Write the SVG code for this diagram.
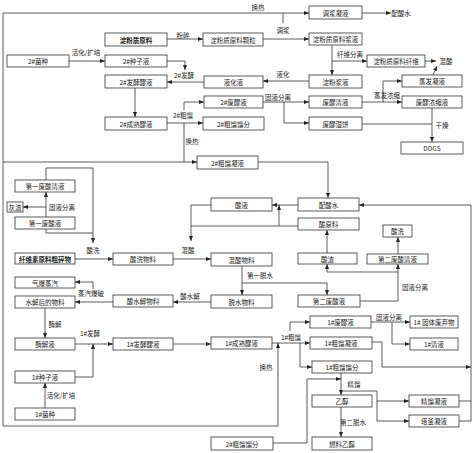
<svg xmlns="http://www.w3.org/2000/svg" width="474" height="453" viewBox="0 0 474 453">
<style>
rect{fill:#fff;stroke:#333;stroke-width:.8}
text{font-family:"Noto Sans CJK SC","Noto Sans",sans-serif;font-size:6.5px;fill:#222;text-anchor:middle;dominant-baseline:central}
.bd{font-weight:bold}
.c path{fill:none;stroke:#333;stroke-width:.8}
.a{marker-end:url(#ar)}
</style>
<defs>
<marker id="ar" markerUnits="userSpaceOnUse" markerWidth="5" markerHeight="4" refX="5" refY="2" orient="auto"><path d="M0,0L5,2L0,4z" fill="#222"/></marker>
</defs>
<g class="c" id="connectors">
<path d="M3,426V13H309" class="a"/>
<path d="M283,13V23"/>
<path d="M362,13H391" class="a"/>
<path d="M167,39H203" class="a"/>
<path d="M263,39H309" class="a"/>
<path d="M69,61H105" class="a"/>
<path d="M167,61H185V70" class="a"/>
<path d="M332,45V75" class="a"/>
<path d="M332,61H367" class="a"/>
<path d="M425,61H436" class="a"/>
<path d="M433,75L437,66" class="a"/>
<path d="M309,81H263" class="a"/>
<path d="M204,82H167" class="a"/>
<path d="M135,88V117" class="a"/>
<path d="M167,123H203" class="a"/>
<path d="M184,110V102H204" class="a"/>
<path d="M184,123V162"/>
<path d="M3,162H197" class="a"/>
<path d="M263,102H309" class="a"/>
<path d="M284,102V123H309" class="a"/>
<path d="M362,102H402" class="a"/>
<path d="M383,102V81H402" class="a"/>
<path d="M432,108V142" class="a"/>
<path d="M362,124H432"/>
<path d="M258,162H328V198" class="a"/>
<path d="M471,421V205H359" class="a"/>
<path d="M298,205H272" class="a"/>
<path d="M298,226H191"/>
<path d="M279,226V205" class="a"/>
<path d="M211,205H191V241" class="a"/>
<path d="M75,259H113" class="a"/>
<path d="M173,259H211" class="a"/>
<path d="M46,180V168H93V243" class="a"/>
<path d="M46,229V233H93"/>
<path d="M46,217V192" class="a"/>
<path d="M46,207H23" class="a"/>
<path d="M242,266V295" class="a"/>
<path d="M242,283H327V295" class="a"/>
<path d="M211,302H173" class="a"/>
<path d="M113,302H75" class="a"/>
<path d="M93,289V282H75" class="a"/>
<path d="M45,308V338" class="a"/>
<path d="M75,344H113" class="a"/>
<path d="M75,377H93V344" class="a"/>
<path d="M45,408V383" class="a"/>
<path d="M173,344H211" class="a"/>
<path d="M3,426H278V343" class="a"/>
<path d="M272,343H310" class="a"/>
<path d="M290,331V322H310" class="a"/>
<path d="M300,343V367H312" class="a"/>
<path d="M371,322H410" class="a"/>
<path d="M392,322V344H410" class="a"/>
<path d="M372,342H382V367H471" class="a"/>
<path d="M273,443H307V379H341" class="a"/>
<path d="M341,373V395" class="a"/>
<path d="M341,391H377V421H409" class="a"/>
<path d="M377,401H409" class="a"/>
<path d="M459,401H471"/>
<path d="M459,421H471"/>
<path d="M341,407V437" class="a"/>
<path d="M327,253V230" class="a"/>
<path d="M360,301H398V264" class="a"/>
<path d="M398,272H327V264" class="a"/>
<path d="M398,254V237" class="a"/>
</g>
<g id="labels">
<text x="258" y="7">换热</text>
<text x="183" y="35">粉碎</text>
<text x="283" y="30">调浆</text>
<text x="86" y="52">活化/扩培</text>
<text x="350" y="54">纤维分离</text>
<text x="184" y="75">2#发酵</text>
<text x="283" y="74">液化</text>
<text x="278" y="97">固液分离</text>
<text x="387" y="95">蒸发浓缩</text>
<text x="183" y="115">2#粗馏</text>
<text x="442" y="125">干燥</text>
<text x="192" y="141">换热</text>
<text x="62" y="207">固液分离</text>
<text x="93" y="250">酸洗</text>
<text x="188" y="250">混酸</text>
<text x="260" y="275">第一脱水</text>
<text x="190" y="296">酸水解</text>
<text x="91" y="293">蒸汽爆破</text>
<text x="415" y="287">固液分离</text>
<text x="389" y="317">固液分离</text>
<text x="55" y="324">酶解</text>
<text x="90" y="333">1#发酵</text>
<text x="291" y="337">1#粗馏</text>
<text x="266" y="367">换热</text>
<text x="354" y="384">精馏</text>
<text x="61" y="395">活化/扩培</text>
<text x="353" y="422">第二脱水</text>
<text x="401" y="13">配酸水</text>
<text x="446" y="61">混酸</text>
</g>
<g id="n1"><rect x="309" y="6" width="53" height="13"/><text x="335.5" y="12.5">调浆凝液</text></g>
<g id="n2"><rect x="105" y="33" width="62" height="13"/><text class="bd" x="136" y="39.5">淀粉质原料</text></g>
<g id="n3"><rect x="7" y="55" width="62" height="12"/><text x="38" y="61">2#菌种</text></g>
<g id="n4"><rect x="105" y="55" width="62" height="12"/><text x="136" y="61">2#种子液</text></g>
<g id="n5"><rect x="105" y="75" width="62" height="13"/><text x="136" y="81.5">2#发酵醪液</text></g>
<g id="n6"><rect x="105" y="117" width="62" height="13"/><text x="136" y="123.5">2#成熟醪液</text></g>
<g id="n7"><rect x="203" y="33" width="60" height="13"/><text x="233" y="39.5">淀粉质原料颗粒</text></g>
<g id="n8"><rect x="309" y="33" width="53" height="12"/><text x="335.5" y="39">淀粉质原料浆液</text></g>
<g id="n9"><rect x="367" y="55" width="58" height="12"/><text x="396" y="61">淀粉质原料纤维</text></g>
<g id="n10"><rect x="309" y="75" width="53" height="13"/><text x="335.5" y="81.5">淀粉浆液</text></g>
<g id="n11"><rect x="204" y="76" width="59" height="12"/><text x="233.5" y="82">液化液</text></g>
<g id="n12"><rect x="402" y="75" width="60" height="12"/><text x="432" y="81">蒸发凝液</text></g>
<g id="n13"><rect x="204" y="96" width="59" height="12"/><text x="233.5" y="102">2#废醪液</text></g>
<g id="n14"><rect x="309" y="96" width="53" height="12"/><text x="335.5" y="102">废醪清液</text></g>
<g id="n15"><rect x="402" y="96" width="60" height="12"/><text x="432" y="102">废醪浓缩液</text></g>
<g id="n16"><rect x="203" y="117" width="61" height="13"/><text x="233.5" y="123.5">2#粗馏馏分</text></g>
<g id="n17"><rect x="309" y="117" width="53" height="13"/><text x="335.5" y="123.5">废醪湿饼</text></g>
<g id="n18"><rect x="401" y="142" width="62" height="12"/><text x="432" y="148">DDGS</text></g>
<g id="n19"><rect x="197" y="156" width="61" height="13"/><text x="227.5" y="162.5">2#粗馏凝液</text></g>
<g id="n20"><rect x="15" y="180" width="60" height="12"/><text x="45" y="186">第一废酸清液</text></g>
<g id="n21"><rect x="7" y="202" width="16" height="10"/><text x="15" y="207">灰渣</text></g>
<g id="n22"><rect x="15" y="217" width="60" height="12"/><text x="45" y="223">第一废酸液</text></g>
<g id="n23"><rect x="211" y="198" width="61" height="13"/><text x="241.5" y="204.5">酸液</text></g>
<g id="n24"><rect x="298" y="198" width="61" height="13"/><text x="328.5" y="204.5">配酸水</text></g>
<g id="n25"><rect x="298" y="218" width="61" height="12"/><text x="328.5" y="224">酸原料</text></g>
<g id="n26"><rect x="383" y="225" width="29" height="12"/><text x="397.5" y="231">酸洗</text></g>
<g id="n27"><rect x="15" y="253" width="60" height="11"/><text class="bd" x="45" y="258.5">纤维素原料粗碎物</text></g>
<g id="n28"><rect x="113" y="253" width="60" height="12"/><text x="143" y="259">酸洗物料</text></g>
<g id="n29"><rect x="211" y="253" width="61" height="13"/><text x="241.5" y="259.5">混酸物料</text></g>
<g id="n30"><rect x="298" y="253" width="59" height="11"/><text x="327.5" y="258.5">酸渣</text></g>
<g id="n31"><rect x="367" y="254" width="61" height="10"/><text x="397.5" y="259">第二废酸清液</text></g>
<g id="n32"><rect x="15" y="277" width="60" height="11"/><text x="45" y="282.5">气爆蒸汽</text></g>
<g id="n33"><rect x="15" y="296" width="60" height="12"/><text x="45" y="302">水解后的物料</text></g>
<g id="n34"><rect x="113" y="295" width="60" height="12"/><text x="143" y="301">酸水解物料</text></g>
<g id="n35"><rect x="211" y="295" width="61" height="13"/><text x="241.5" y="301.5">脱水物料</text></g>
<g id="n36"><rect x="298" y="295" width="62" height="12"/><text x="329" y="301">第二废酸液</text></g>
<g id="n37"><rect x="310" y="316" width="61" height="12"/><text x="340.5" y="322">1#废醪液</text></g>
<g id="n38"><rect x="410" y="316" width="48" height="12"/><text x="434" y="322">1# 固体废弃物</text></g>
<g id="n39"><rect x="15" y="338" width="60" height="12"/><text x="45" y="344">酶解液</text></g>
<g id="n40"><rect x="113" y="338" width="60" height="12"/><text x="143" y="344">1#发酵醪液</text></g>
<g id="n41"><rect x="211" y="337" width="61" height="12"/><text x="241.5" y="343">1#成熟醪液</text></g>
<g id="n42"><rect x="310" y="337" width="62" height="12"/><text x="341" y="343">1#粗馏凝液</text></g>
<g id="n43"><rect x="410" y="338" width="48" height="12"/><text x="434" y="344">1#清液</text></g>
<g id="n44"><rect x="312" y="361" width="60" height="12"/><text x="342" y="367">1#粗馏馏分</text></g>
<g id="n45"><rect x="15" y="371" width="60" height="12"/><text x="45" y="377">1#种子液</text></g>
<g id="n46"><rect x="312" y="395" width="60" height="12"/><text x="342" y="401">乙醇</text></g>
<g id="n47"><rect x="409" y="395" width="50" height="12"/><text x="434" y="401">精馏凝液</text></g>
<g id="n48"><rect x="15" y="408" width="60" height="12"/><text x="45" y="414">1#菌种</text></g>
<g id="n49"><rect x="409" y="415" width="50" height="12"/><text x="434" y="421">塔釜凝液</text></g>
<g id="n50"><rect x="211" y="437" width="62" height="13"/><text x="242" y="443.5">2#粗馏馏分</text></g>
<g id="n51"><rect x="312" y="437" width="60" height="13"/><text x="342" y="443.5">燃料乙醇</text></g>
</svg>
